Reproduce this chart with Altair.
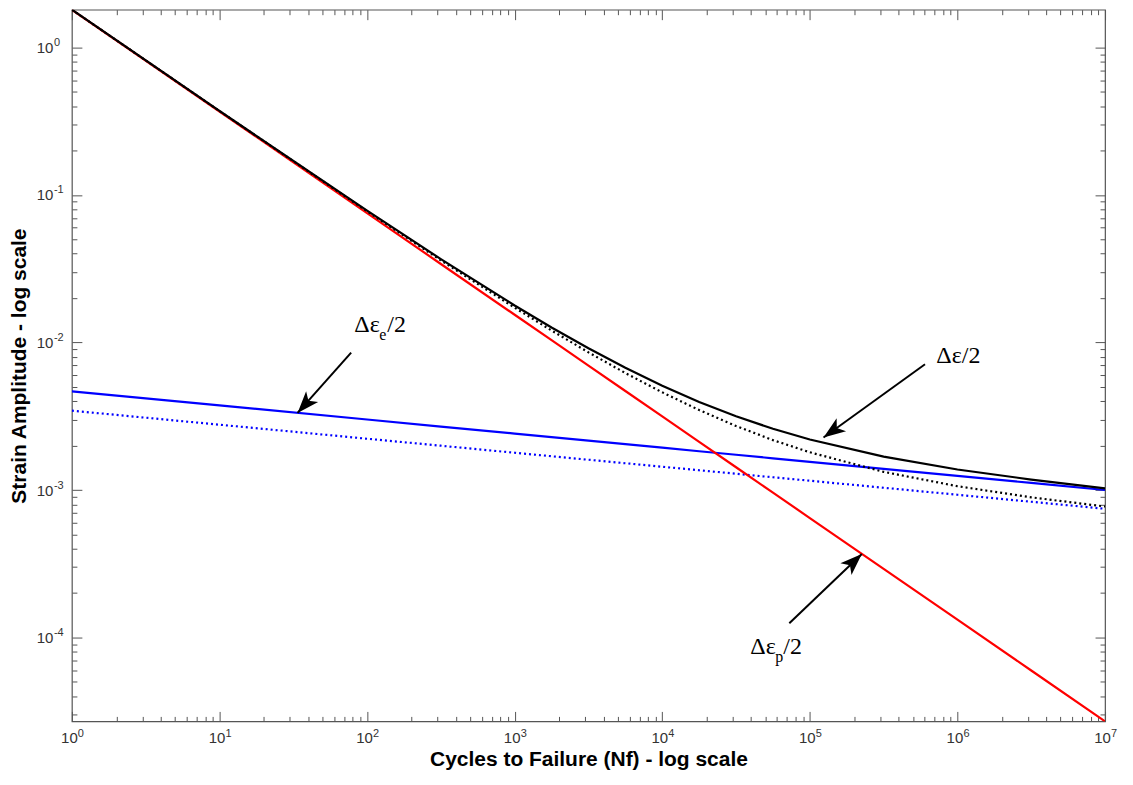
import math
import altair as alt
import pandas as pd

# ---------------- data ----------------
N = [1, 10, 100, 316.2, 1000, 1778, 3162, 5623, 10000, 17783, 31623, 56234,
     100000, 316228, 1000000, 3162278, 10000000]

plastic = [1.799, 0.3681, 0.07534, 0.03407, 0.01542, 0.01037, 0.006974, 0.004690,
           0.003155, 0.002122, 0.001427, 0.000960, 0.0006457, 0.0002921, 0.0001321,
           0.00005976, 0.00002704]
elastic = [0.00467, 0.003747, 0.003007, 0.002693, 0.002413, 0.002284, 0.002161, 0.002046,
           0.001936, 0.001832, 0.001734, 0.001641, 0.001553, 0.001391, 0.001246,
           0.001117, 0.001000]
elastic_dotted = [0.00345, 0.002772, 0.002227, 0.001997, 0.001789, 0.001694, 0.001604,
                  0.001519, 0.001438, 0.001362, 0.001289, 0.001220, 0.001156, 0.001036,
                  0.0009286, 0.0008324, 0.0007462]
total = [1.804, 0.3718, 0.07835, 0.03676, 0.01783, 0.01265, 0.009135, 0.006736,
         0.005091, 0.003954, 0.003161, 0.002601, 0.002199, 0.001683, 0.001378,
         0.001177, 0.001027]
total_dotted = [1.8025, 0.3709, 0.07757, 0.03607, 0.01721, 0.01206, 0.008578, 0.006209,
                0.004593, 0.003484, 0.002716, 0.002180, 0.001802, 0.001328, 0.001061,
                0.000892, 0.000773]

x_domain = [1, 1e7]
y_domain = [2.7e-5, 1.804]

x_major = [1, 10, 100, 1000, 1e4, 1e5, 1e6, 1e7]
x_exponents = ["0", "1", "2", "3", "4", "5", "6", "7"]
y_major = [1e-4, 1e-3, 1e-2, 1e-1, 1]
y_exponents = ["-4", "-3", "-2", "-1", "0"]
label_base = "10"
x_minor = [m * 10 ** k for k in range(0, 7) for m in range(2, 10)]
y_minor = [m * 10.0 ** k for k in range(-5, 0) for m in range(2, 10)
           if y_domain[0] <= m * 10.0 ** k <= y_domain[1]]

x_title = "Cycles to Failure (Nf) - log scale"
y_title = "Strain Amplitude - log scale"

# annotations (text anchor = left baseline)
ann_x = [82.0, 7.19e5, 3.95e4]
ann_y = [0.01183, 7.27e-3, 7.76e-5]
ann_main = ["Δε", "Δε/2", "Δε"]
ann_sub = ["e", "", "p"]
ann_tail = ["/2", "", "/2"]

arrow_tail_x = [78.0, 6.03e5, 7.26e4]
arrow_tail_y = [8.53e-3, 7.12e-3, 1.25e-4]
arrow_head_x = [33.8, 1.238e5, 2.25e5]
arrow_head_y = [3.33e-3, 2.27e-3, 3.685e-4]

# ---------------- layout ----------------
W, H = 1035, 713
px_dec_x = W / math.log10(x_domain[1] / x_domain[0])
px_dec_y = H / math.log10(y_domain[1] / y_domain[0])

angles = []
for tx, ty, hx, hy in zip(arrow_tail_x, arrow_tail_y, arrow_head_x, arrow_head_y):
    dx = math.log10(hx / tx) * px_dec_x
    dy = math.log10(hy / ty) * px_dec_y
    angles.append(math.degrees(math.atan2(dx, dy)) % 360)


def series_df(vals):
    return pd.DataFrame({"N": N, "v": vals})


xs = alt.Scale(type="log", domain=x_domain, nice=False)
ys = alt.Scale(type="log", domain=y_domain, nice=False)

TICK = "#555555"
LBL = "#333333"
FONT = "Liberation Sans"


def expr_labels(labels, shift):
    arr = "[" + ",".join("'" + s + "'" for s in labels) + "]"
    return arr + "[round(log(datum.value)/LN10)+" + str(shift) + "]"


common_lbl = dict(ticks=False, domain=False, grid=False, labelFont=FONT, labelColor=LBL,
                  labelFlush=False, labelOverlap=False, labelBound=False)

ax_x_base = alt.Axis(orient="bottom", values=x_major, labelExpr="'" + label_base + "'",
                     labelAlign="center", labelOffset=-3, labelPadding=9,
                     labelBaseline="top", labelFontSize=15,
                     title=x_title, titleFont=FONT, titleFontSize=21,
                     titleFontWeight="bold", titleColor="#000000",
                     titleY=44, titleBaseline="alphabetic", **common_lbl)
ax_x_exp = alt.Axis(orient="bottom", values=x_major, labelExpr=expr_labels(x_exponents, 0),
                    labelAlign="left", labelOffset=5.5, labelPadding=6,
                    labelBaseline="top", labelFontSize=11, title=None, **common_lbl)
ax_y_base = alt.Axis(orient="left", values=y_major, labelExpr="'" + label_base + "'",
                     labelAlign="right", labelPadding=19, labelBaseline="middle",
                     labelFontSize=15,
                     title=y_title, titleFont=FONT, titleFontSize=21,
                     titleFontWeight="bold", titleColor="#000000",
                     titleX=-46, titleBaseline="alphabetic", **common_lbl)
ax_y_exp = alt.Axis(orient="left", values=y_major, labelExpr=expr_labels(y_exponents, 4),
                    labelAlign="left", labelPadding=18.5, labelOffset=-5,
                    labelBaseline="middle", labelFontSize=11, title=None, **common_lbl)


def tick_axis(orient, offset, values, size):
    return alt.Axis(orient=orient, offset=offset, values=values, labels=False,
                    domain=False, grid=False, ticks=True, tickSize=size,
                    tickColor=TICK, tickWidth=1, title=None)


def line_layer(vals, color, dash, xaxis, yaxis, width=2.2):
    kw = dict(color=color, strokeWidth=width, clip=True)
    if dash:
        kw["strokeDash"] = dash
    return alt.Chart(series_df(vals)).mark_line(**kw).encode(
        x=alt.X("N:Q", scale=xs, axis=xaxis),
        y=alt.Y("v:Q", scale=ys, axis=yaxis),
    )


l1 = line_layer(elastic_dotted, "#0000ff", [2, 3], ax_x_base, ax_y_base)
l2 = line_layer(elastic, "#0000ff", None,
                tick_axis("top", -H, x_minor, 5), tick_axis("right", -W, y_minor, 5))
l3 = line_layer(plastic, "#ff0000", None,
                tick_axis("top", -H, x_major, 10), tick_axis("right", -W, y_major, 10))
l4 = line_layer(total_dotted, "#000000", [2, 3],
                tick_axis("bottom", -H, x_minor, 5), tick_axis("left", -W, y_minor, 5))
l5 = line_layer(total, "#000000", None,
                tick_axis("bottom", -H, x_major, 10), tick_axis("left", -W, y_major, 10))

arrows = pd.DataFrame({"tx": arrow_tail_x, "ty": arrow_tail_y,
                       "hx": arrow_head_x, "hy": arrow_head_y, "ang": angles})
shafts = alt.Chart(arrows).mark_rule(color="#000000", strokeWidth=2).encode(
    x=alt.X("tx:Q", scale=xs, axis=ax_x_exp), y=alt.Y("ty:Q", scale=ys, axis=ax_y_exp),
    x2="hx:Q", y2="hy:Q")
ARROW_PATH = "M0,0 L0.55,1.5 L0,1.12 L-0.55,1.5 Z"
heads = alt.Chart(arrows).mark_point(shape=ARROW_PATH, filled=True, color="#000000",
                                     size=860, opacity=1, strokeWidth=0).encode(
    x=alt.X("hx:Q", scale=xs, axis=None), y=alt.Y("hy:Q", scale=ys, axis=None),
    angle=alt.Angle("ang:Q", scale=None))

ann = pd.DataFrame({"x": ann_x, "y": ann_y, "main": ann_main, "sub": ann_sub,
                    "tail": ann_tail})


def text_layer(field, size, dx, dy):
    return alt.Chart(ann).mark_text(font="Liberation Serif", fontSize=size, align="left",
                                    baseline="alphabetic", dx=dx, dy=dy,
                                    color="#000000").encode(
        x=alt.X("x:Q", scale=xs, axis=None), y=alt.Y("y:Q", scale=ys, axis=None),
        text=f"{field}:N")


t1 = text_layer("main", 24, 0, 0)
t2 = text_layer("sub", 16, 25, 8)
t3 = text_layer("tail", 24, 33, 0)

chart = alt.layer(l1, l2, l3, l4, l5, shafts, heads, t1, t2, t3).resolve_axis(
    x="independent", y="independent"
).properties(
    width=W, height=H,
    padding={"left": 64, "top": 1, "right": 20, "bottom": 55},
    autosize=alt.AutoSizeParams(type="none"),
    background="#ffffff",
).configure_view(stroke="#555555", strokeWidth=1.2)

chart.save("out.html", embed_options={"renderer": "svg", "actions": False})
